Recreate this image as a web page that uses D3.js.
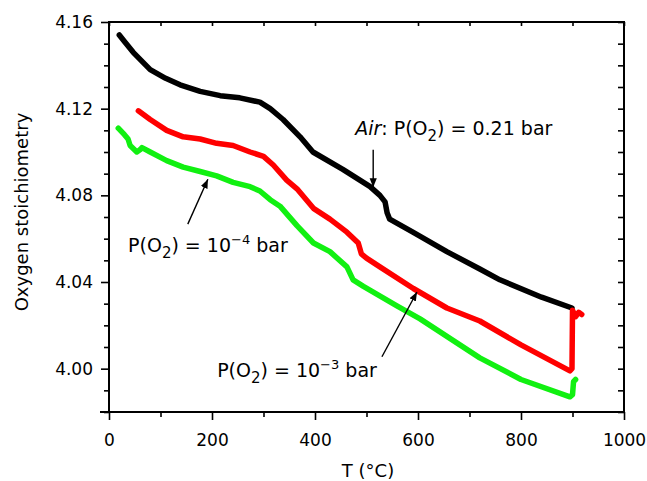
<!doctype html>
<html>
<head>
<meta charset="UTF-8">
<title>Oxygen stoichiometry</title>
<script src="https://d3js.org/d3.v7.min.js"></script>
<style>
  body { margin: 0; background: #fff; }
  text { font-family: "DejaVu Sans", sans-serif; fill: #000; }
</style>
</head>
<body>
<svg id="chart" width="647" height="481"></svg>
<script>
// temperature (°C) and stoichiometry
var airT = [20, 30, 47, 80, 110, 138, 177, 216, 254, 293, 313, 338, 371, 396, 454, 507, 526, 536, 540, 545, 590, 656, 720, 759, 840, 899];
var airV = [4.154, 4.151, 4.146, 4.138, 4.134, 4.131, 4.128, 4.126, 4.125, 4.123, 4.120, 4.115, 4.107, 4.100, 4.092, 4.084, 4.080, 4.077, 4.072, 4.069, 4.063, 4.054, 4.046, 4.041, 4.033, 4.028];

var p3T = [57, 80, 112, 144, 177, 209, 241, 274, 300, 319, 345, 365, 397, 429, 462, 484, 490, 500, 526, 591, 656, 720, 800, 895, 899, 900, 906, 912, 918];
var p3V = [4.119, 4.115, 4.110, 4.107, 4.106, 4.104, 4.103, 4.100, 4.098, 4.094, 4.087, 4.083, 4.074, 4.069, 4.063, 4.058, 4.053, 4.051, 4.047, 4.037, 4.028, 4.022, 4.011, 3.999, 4.000, 4.027, 4.024, 4.026, 4.025];

var p4T = [18, 30, 37, 41, 54, 60, 64, 80, 112, 144, 177, 209, 241, 274, 293, 313, 332, 365, 397, 429, 462, 474, 494, 559, 604, 720, 800, 895, 900, 902, 906];
var p4V = [4.111, 4.108, 4.106, 4.103, 4.100, 4.101, 4.102, 4.100, 4.096, 4.093, 4.091, 4.089, 4.086, 4.084, 4.082, 4.078, 4.075, 4.066, 4.058, 4.054, 4.047, 4.041, 4.038, 4.029, 4.023, 4.005, 3.995, 3.987, 3.988, 3.994, 3.995];

var xTicks = [0, 200, 400, 600, 800, 1000];
var yTicks = [4.00, 4.04, 4.08, 4.12, 4.16];

var series = [
  { T: airT, V: airV, color: "#000000" },
  { T: p3T, V: p3V, color: "#ff0000" },
  { T: p4T, V: p4V, color: "#11f011" }
];

// annotations: text start, arrow tail -> head (data units)
var notes = [
  { pre: "Air: P(O", sub: "2", post: ") = 0.21 bar", sup: "", tail: "", x: 478, y: 4.108, a: [513, 4.101, 513, 4.0837], italic: true },
  { pre: "P(O", sub: "2", post: ") = 10", sup: "-4", tail: " bar", x: 37, y: 4.054, a: [153, 4.0667, 192, 4.0874] },
  { pre: "P(O", sub: "2", post: ") = 10", sup: "-3", tail: " bar", x: 210, y: 3.996, a: [530, 4.0055, 598, 4.0354] }
];

var svg = d3.select("#chart");
var mLeft = 109, mRight = 624, mTop = 22, mBottom = 412;

var x = d3.scaleLinear().domain([0, 1000]).range([mLeft, mRight]);
var y = d3.scaleLinear().domain([3.98, 4.16]).range([mBottom, mTop]);

var defs = svg.append("defs");
defs.append("marker")
  .attr("id", "head")
  .attr("viewBox", "0 0 10 10")
  .attr("refX", 10).attr("refY", 5)
  .attr("markerWidth", 9).attr("markerHeight", 9)
  .attr("markerUnits", "userSpaceOnUse")
  .attr("orient", "auto")
  .append("path").attr("d", "M0,1 L10,5 L0,9 Z").attr("fill", "#000");

// curves
var line = d3.line()
  .x(function (d) { return x(d[0]); })
  .y(function (d) { return y(d[1]); });

series.forEach(function (s) {
  var pts = s.T.map(function (t, i) { return [t, s.V[i]]; });
  svg.append("path")
    .datum(pts)
    .attr("d", line)
    .attr("fill", "none")
    .attr("stroke", s.color)
    .attr("stroke-width", 5.5)
    .attr("stroke-linejoin", "round")
    .attr("stroke-linecap", "round");
});

// axes
var xMinor = d3.range(0, 1001, 100);
var yMinor = d3.range(0, 19).map(function (i) { return +(3.98 + i * 0.01).toFixed(2); });
function isMajorY(d) { return yTicks.some(function (t) { return Math.abs(t - d) < 1e-6; }); }

var gb = svg.append("g").attr("transform", "translate(0," + mBottom + ")")
  .call(d3.axisBottom(x).tickValues(xMinor).tickSize(8).tickFormat(function (d) {
    return xTicks.indexOf(d) >= 0 ? d : "";
  }).tickPadding(14));
var gl = svg.append("g").attr("transform", "translate(" + mLeft + ",0)")
  .call(d3.axisLeft(y).tickValues(yMinor).tickSize(8).tickFormat(function (d) {
    return isMajorY(d) ? d3.format(".2f")(d) : "";
  }).tickPadding(8));
var gt = svg.append("g").attr("transform", "translate(0," + mTop + ")")
  .call(d3.axisBottom(x).tickValues(xMinor).tickSize(5).tickFormat(""));
var gr = svg.append("g").attr("transform", "translate(" + mRight + ",0)")
  .call(d3.axisRight(y).tickValues(yMinor).tickSize(-6).tickFormat(""));

[gb, gl, gt, gr].forEach(function (g) {
  g.select(".domain").remove();
  g.selectAll("line").attr("stroke", "#000").attr("stroke-width", 1.6);
  g.selectAll("text").attr("font-size", 17).style("font-family", "DejaVu Sans, sans-serif");
});
gb.selectAll(".tick line").attr("y2", function (d) { return xTicks.indexOf(d) >= 0 ? 8 : 5; });
gl.selectAll(".tick line").attr("x2", function (d) { return isMajorY(d) ? -8 : -5; });
gt.selectAll(".tick line").attr("y2", 4);
gr.selectAll(".tick line").attr("x2", -6);

// frame
svg.append("rect")
  .attr("x", mLeft).attr("y", mTop)
  .attr("width", mRight - mLeft).attr("height", mBottom - mTop)
  .attr("fill", "none").attr("stroke", "#000").attr("stroke-width", 2);
svg.append("line").attr("x1", mLeft - 9).attr("x2", mLeft).attr("y1", mBottom).attr("y2", mBottom)
  .attr("stroke", "#000").attr("stroke-width", 2);

// axis titles
svg.append("text")
  .attr("x", 368).attr("y", 477)
  .attr("text-anchor", "middle").attr("font-size", 18)
  .text("T (°C)");
svg.append("text")
  .attr("transform", "translate(28," + 212 + ") rotate(-90)")
  .attr("text-anchor", "middle").attr("font-size", 18)
  .text("Oxygen stoichiometry");

// annotations
notes.forEach(function (n) {
  svg.append("line")
    .attr("x1", x(n.a[0])).attr("y1", y(n.a[1]))
    .attr("x2", x(n.a[2])).attr("y2", y(n.a[3]))
    .attr("stroke", "#000").attr("stroke-width", 1.4)
    .attr("marker-end", "url(#head)");
  var t = svg.append("text").attr("x", x(n.x)).attr("y", y(n.y)).attr("font-size", 19);
  if (n.italic) {
    t.append("tspan").attr("font-style", "italic").text("Air");
    t.append("tspan").text(n.pre.slice(3));
  } else {
    t.append("tspan").text(n.pre);
  }
  t.append("tspan").attr("font-size", 15).attr("dy", 6).text(n.sub);
  t.append("tspan").attr("dy", -6).text(n.post);
  if (n.sup) {
    t.append("tspan").attr("font-size", 13).attr("dy", -8).text(n.sup.replace("-", "\u2212"));
    t.append("tspan").attr("dy", 8).text(n.tail);
  }
});
</script>
</body>
</html>
